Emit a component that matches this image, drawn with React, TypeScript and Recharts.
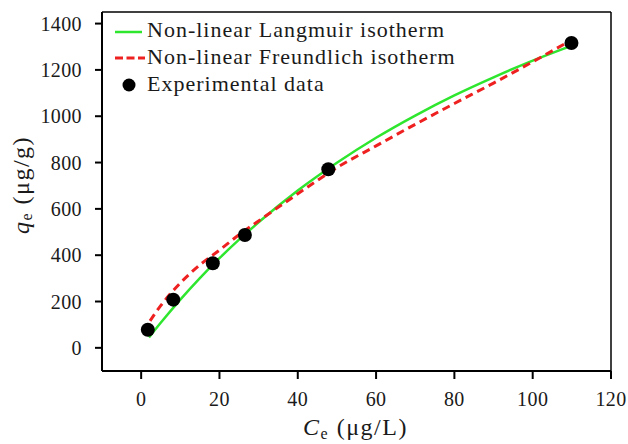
import { ComposedChart, Line, Scatter, XAxis, YAxis, Label, ReferenceLine, Legend } from 'recharts'

const expC = [1.7, 8.2, 18.3, 26.5, 47.8, 109.9]
const expQ = [78, 208, 365, 487, 771, 1316]

const langmuirC = [2, 5, 10, 15, 20, 25, 30, 40, 50, 60, 70, 80, 90, 100, 110]
const langmuirQ = [45, 108, 208, 301, 387, 467, 542, 679, 799, 907, 1003, 1090, 1168, 1240, 1305]

const freundlichC = [0.5, 3, 5, 10, 15, 20, 25, 30, 40, 50, 60, 70, 80, 90, 100, 110]
const freundlichQ = [68, 135, 182, 280, 358, 422, 488, 548, 665, 778, 872, 965, 1055, 1143, 1235, 1330]

const xTicks = [0, 20, 40, 60, 80, 100, 120]
const yTicks = [0, 200, 400, 600, 800, 1000, 1200, 1400]

const GREEN = '#2fe62f'
const RED = '#ee2020'
const FONT = '"Liberation Serif", "Times New Roman", serif'
const INK = '#1a1a1a'

const expData = expC.map((c, i) => ({ x: c, y: expQ[i] }))
const langmuirData = langmuirC.map((c, i) => ({ x: c, y: langmuirQ[i] }))
const freundlichData = freundlichC.map((c, i) => ({ x: c, y: freundlichQ[i] }))

function YTitle({ viewBox }: any) {
  const cx = viewBox.x + 21
  const cy = 185
  return (
    <text x={cx} y={cy} transform={`rotate(-90 ${cx} ${cy})`} textAnchor="middle" dominantBaseline="central"
      fontFamily={FONT} fontSize={24} fill={INK} letterSpacing={1.5}>
      <tspan fontStyle="italic">q</tspan>
      <tspan fontSize={16} dy={5}>e</tspan>
      <tspan dy={-5}> (μg/g)</tspan>
    </text>
  )
}

function XTitle({ viewBox }: any) {
  const cx = viewBox.x + viewBox.width / 2 - 1
  const cy = viewBox.y + 64
  return (
    <text x={cx} y={cy} textAnchor="middle" fontFamily={FONT} fontSize={24} fill={INK} letterSpacing={1.5}>
      <tspan fontStyle="italic">C</tspan>
      <tspan fontSize={16} dy={4}>e</tspan>
      <tspan dy={-4}> (μg/L)</tspan>
    </text>
  )
}

const legendRows = [
  { label: 'Non-linear Langmuir isotherm', kind: 'line' },
  { label: 'Non-linear Freundlich isotherm', kind: 'dash' },
  { label: 'Experimental data', kind: 'dot' },
]

function LegendBox() {
  return (
    <div style={{ fontFamily: FONT, fontSize: 22, color: INK, lineHeight: '27px', letterSpacing: 1, whiteSpace: 'nowrap' }}>
      {legendRows.map((r) => (
        <div key={r.label} style={{ display: 'flex', alignItems: 'center', height: 27 }}>
          <svg width={34} height={27} style={{ flex: 'none' }}>
            {r.kind === 'line' && <line x1={2} x2={29} y1={16} y2={16} stroke={GREEN} strokeWidth={2.5} />}
            {r.kind === 'dash' && <line x1={2} x2={32} y1={15} y2={15} stroke={RED} strokeWidth={3} strokeDasharray="8 3.5" />}
            {r.kind === 'dot' && <circle cx={16} cy={15} r={6.5} fill="#000" />}
          </svg>
          <span>{r.label}</span>
        </div>
      ))}
    </div>
  )
}

export default function App() {
  return (
    <div style={{ position: 'fixed', left: 0, top: 0, width: 628, height: 444, background: '#fff', overflow: 'visible' }}>
      <style>{'body{margin:0;overflow:hidden}'}</style>
      <ComposedChart width={628} height={444} margin={{ top: 12, right: 17, left: 0, bottom: 0 }} style={{ overflow: 'visible' }}>
        <XAxis type="number" dataKey="x" domain={[-10, 120]} ticks={xTicks} allowDataOverflow
          height={73} tickSize={8} tickMargin={13}
          axisLine={{ stroke: '#000', strokeWidth: 2 }} tickLine={{ stroke: '#000', strokeWidth: 2 }}
          tick={{ fontFamily: FONT, fontSize: 20, fill: INK, letterSpacing: 0.4 }}>
          <Label content={XTitle} />
        </XAxis>
        <YAxis type="number" dataKey="y" domain={[-100, 1450]} ticks={yTicks} allowDataOverflow
          width={102} tickSize={7} tickMargin={13}
          axisLine={{ stroke: '#000', strokeWidth: 2 }} tickLine={{ stroke: '#000', strokeWidth: 2 }}
          tick={{ fontFamily: FONT, fontSize: 20, fill: INK, letterSpacing: 0.4 }}>
          <Label content={YTitle} />
        </YAxis>
        <ReferenceLine y={1450} stroke="#000" strokeWidth={1.5} />
        <ReferenceLine x={120} stroke="#000" strokeWidth={1.5} />
        <Scatter data={expData} fill="#000" shape={(p: any) => <circle cx={p.cx} cy={p.cy} r={7} fill="#000" />} isAnimationActive={false} />
        <Line data={langmuirData} dataKey="y" type="monotone" stroke={GREEN} strokeWidth={2.5} dot={false} isAnimationActive={false} />
        <Line data={freundlichData} dataKey="y" type="monotone" stroke={RED} strokeWidth={3} strokeDasharray="8 5" dot={false} isAnimationActive={false} />
        <Legend content={LegendBox} layout="vertical" verticalAlign="middle" align="center"
          wrapperStyle={{ left: 113, top: 16, width: 'auto' }} />
      </ComposedChart>
    </div>
  )
}
